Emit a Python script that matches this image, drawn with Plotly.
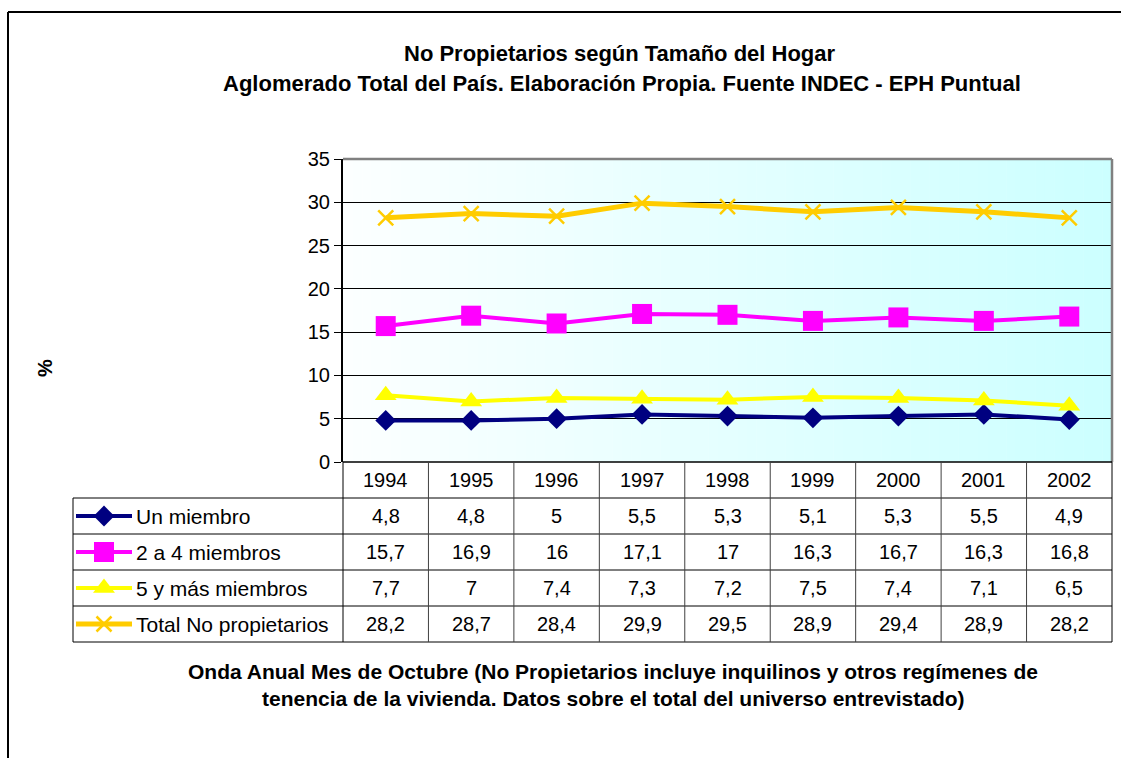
import plotly.graph_objects as go

years = ["1994", "1995", "1996", "1997", "1998", "1999", "2000", "2001", "2002"]
series_names = ["Un miembro", "2 a 4 miembros", "5 y más miembros", "Total No propietarios"]
un_miembro = [4.8, 4.8, 5.0, 5.5, 5.3, 5.1, 5.3, 5.5, 4.9]
dos_a_cuatro = [15.7, 16.9, 16.0, 17.1, 17.0, 16.3, 16.7, 16.3, 16.8]
cinco_y_mas = [7.7, 7.0, 7.4, 7.3, 7.2, 7.5, 7.4, 7.1, 6.5]
total_no_prop = [28.2, 28.7, 28.4, 29.9, 29.5, 28.9, 29.4, 28.9, 28.2]
y_ticks = [0, 5, 10, 15, 20, 25, 30, 35]

all_series = [un_miembro, dos_a_cuatro, cinco_y_mas, total_no_prop]
colors = ["#000080", "#FF00FF", "#FFFF00", "#FFCC00"]
symbols = ["diamond", "square", "triangle-up", "x-thin"]
msizes = [16, 20, 19, 15]
lwidths = [4, 4, 4, 5]

W, H = 1121, 758
PX0, PX1 = 343, 1112   # plot area pixel x
PY0, PY1 = 159, 462    # plot area pixel y (top, bottom)

def fx(px):
    return px / W

def fy(py):
    return 1 - py / H

FONT = "Liberation Sans, Arial, sans-serif"

fig = go.Figure()

for name, vals, c, s, ms, lw in zip(series_names, all_series, colors, symbols, msizes, lwidths):
    mk = dict(symbol=s, size=ms, color=c)
    if s == "x-thin":
        mk["line"] = dict(color=c, width=2.5)
    fig.add_trace(go.Scatter(
        x=years, y=vals, name=name, mode="lines+markers",
        line=dict(color=c, width=lw), marker=mk,
        xaxis="x", yaxis="y", showlegend=False, cliponaxis=False))

# legend keys inside the table (pixel overlay axis)
row_tops = [498, 534, 570, 606, 642]
for i, (c, s, ms, lw) in enumerate(zip(colors, symbols, msizes, lwidths)):
    cy = (row_tops[i] + row_tops[i + 1]) / 2
    fig.add_trace(go.Scatter(x=[76, 132], y=[cy, cy], mode="lines",
                             line=dict(color=c, width=lw), xaxis="x2", yaxis="y2",
                             showlegend=False, hoverinfo="skip"))
    mk = dict(symbol=s, size=ms, color=c)
    if s == "x-thin":
        mk["line"] = dict(color=c, width=2.5)
    fig.add_trace(go.Scatter(x=[104], y=[cy], mode="markers", marker=mk,
                             xaxis="x2", yaxis="y2", showlegend=False, hoverinfo="skip"))

shapes = []
# outer chart frame
shapes.append(dict(type="line", xref="paper", yref="paper", x0=fx(8), x1=1.0, y0=fy(12), y1=fy(12),
                   line=dict(color="black", width=2)))
shapes.append(dict(type="line", xref="paper", yref="paper", x0=fx(8), x1=fx(8), y0=fy(12), y1=0,
                   line=dict(color="black", width=2)))

# gradient plot background
N = 80
for k in range(N):
    t = k / (N - 1)
    r = int(round(252 - (252 - 204) * t))
    col = f"rgb({r},255,255)"
    x0 = PX0 + (PX1 - PX0) * k / N
    x1 = PX0 + (PX1 - PX0) * (k + 1) / N + 0.5
    shapes.append(dict(type="rect", xref="paper", yref="paper", x0=fx(x0), x1=fx(x1),
                       y0=fy(PY1), y1=fy(PY0), fillcolor=col, line=dict(width=0), layer="below"))

# plot area border top and right (gray)
shapes.append(dict(type="line", xref="paper", yref="paper", x0=fx(PX0), x1=fx(PX1), y0=fy(PY0), y1=fy(PY0),
                   line=dict(color="#808080", width=2.5)))
shapes.append(dict(type="line", xref="paper", yref="paper", x0=fx(PX1), x1=fx(PX1), y0=fy(PY0), y1=fy(PY1),
                   line=dict(color="#808080", width=2.5)))

# table grid
TL = 73
col_w = (PX1 - PX0) / len(years)
shapes.append(dict(type="line", xref="paper", yref="paper", x0=fx(PX0), x1=fx(PX1), y0=fy(PY1), y1=fy(PY1),
                   line=dict(color="black", width=1.5)))
for ry in row_tops:
    shapes.append(dict(type="line", xref="paper", yref="paper", x0=fx(TL), x1=fx(PX1), y0=fy(ry), y1=fy(ry),
                       line=dict(color="black", width=1)))
shapes.append(dict(type="line", xref="paper", yref="paper", x0=fx(TL), x1=fx(TL), y0=fy(498), y1=fy(642),
                   line=dict(color="black", width=1)))
for j in range(len(years) + 1):
    xx = PX0 + col_w * j
    shapes.append(dict(type="line", xref="paper", yref="paper", x0=fx(xx), x1=fx(xx), y0=fy(PY1), y1=fy(642),
                       line=dict(color="black" if j in (0, len(years)) else "#404040", width=1)))

annotations = []

def ann(x, y, text, size, xanchor="center", angle=0):
    annotations.append(dict(x=fx(x), y=fy(y), xref="paper", yref="paper", text=text,
                            xanchor=xanchor, yanchor="middle", textangle=angle,
                            showarrow=False, font=dict(family=FONT, size=size, color="black")))

def fmt(v):
    s = f"{v:.1f}".replace(".", ",")
    if s.endswith(",0"):
        s = s[:-2]
    return s

for j, yr in enumerate(years):
    cx = PX0 + col_w * (j + 0.5)
    ann(cx, (PY1 + 498) / 2, yr, 20)
    for i, vals in enumerate(all_series):
        cy = (row_tops[i] + row_tops[i + 1]) / 2
        ann(cx, cy, fmt(vals[j]), 20)

for i, name in enumerate(series_names):
    cy = (row_tops[i] + row_tops[i + 1]) / 2
    ann(134, cy, name, 21, xanchor="left")

# titles
ann(620, 53, "<b>No Propietarios según Tamaño del Hogar</b>", 22)
ann(622, 83, "<b>Aglomerado Total del País. Elaboración Propia. Fuente INDEC - EPH Puntual</b>", 22)
ann(613, 671, "<b>Onda Anual Mes de Octubre (No Propietarios incluye inquilinos y otros regímenes de</b>", 21)
ann(613, 698, "<b>tenencia de la vivienda. Datos sobre el total del universo entrevistado)</b>", 21)
ann(45, 368, "<b>%</b>", 20, angle=-90)

fig.update_layout(
    width=W, height=H,
    margin=dict(l=0, r=0, t=0, b=0, pad=0, autoexpand=False),
    paper_bgcolor="white", plot_bgcolor="rgba(0,0,0,0)",
    xaxis=dict(domain=[fx(PX0), fx(PX1)], type="category", range=[-0.5, 8.5], automargin=False,
               showticklabels=False, showgrid=False, zeroline=False, showline=False, ticks=""),
    yaxis=dict(domain=[fy(PY1), fy(PY0)], range=[0, 35], tickvals=y_ticks, automargin=False,
               showgrid=True, gridcolor="black", gridwidth=1, zeroline=False,
               showline=True, linecolor="black", linewidth=2,
               ticks="outside", ticklen=7, tickcolor="black", tickwidth=1,
               tickfont=dict(family=FONT, size=20, color="black"), anchor="x"),
    xaxis2=dict(domain=[0, 1], range=[0, W], visible=False, anchor="y2", automargin=False),
    yaxis2=dict(domain=[0, 1], range=[H, 0], visible=False, anchor="x2", automargin=False),
    shapes=shapes, annotations=annotations,
    font=dict(family=FONT),
)

fig.write_html("out.html", config={"displayModeBar": False},
               post_script="document.body.style.margin='0';document.body.style.overflow='hidden';")
